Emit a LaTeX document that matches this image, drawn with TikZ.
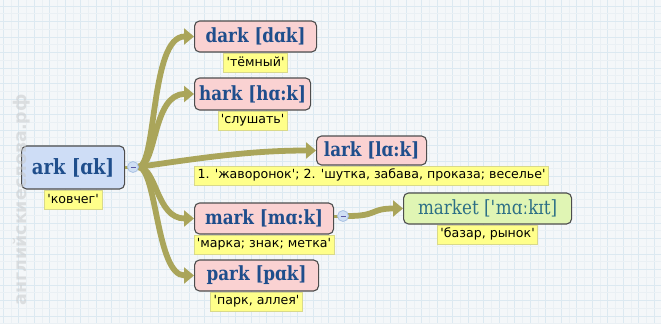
\documentclass[tikz,border=0pt]{standalone}
\usepackage{fontspec}
\setmainfont{DejaVu Sans}
\newfontfamily\wordfont[FakeStretch=0.86]{DejaVu Serif}
\newfontfamily\labfont{DejaVu Sans}
\usetikzlibrary{arrows.meta}
\definecolor{bg}{HTML}{F4F7F9}
\definecolor{gridc}{HTML}{DCE9F1}
\definecolor{gridm}{HTML}{EAF0F4}
\definecolor{olive}{HTML}{AAA55A}
\definecolor{pinkf}{HTML}{FAD2D2}
\definecolor{bluef}{HTML}{CEDDF6}
\definecolor{greenf}{HTML}{E0F5B4}
\definecolor{yel}{HTML}{FFFF8A}
\definecolor{yelb}{HTML}{D9D98A}
\definecolor{wordc}{HTML}{1F4E8C}
\definecolor{mktc}{HTML}{2C6F86}
\definecolor{bord}{HTML}{4D4D4D}
\definecolor{circf}{HTML}{CFDFF4}
\definecolor{circb}{HTML}{A9C2E2}
\definecolor{wmark}{HTML}{C8CACC}
\tikzset{
  wordbox/.style={draw=bord, line width=1.1pt, rounded corners=5pt, inner xsep=4pt, inner ysep=0pt,
    minimum height=31pt, font=\wordfont\bfseries\fontsize{19.5}{19.5}\selectfont, text=wordc, anchor=west},
  labelbox/.style={fill=yel, draw=yelb, line width=0.5pt, inner xsep=3pt, inner ysep=0pt,
    minimum height=19pt, font=\labfont\fontsize{12.6}{12.6}\selectfont, text=black, anchor=north},
  conn/.style={draw=olive, line width=5.8pt, -{Triangle[length=10pt,width=16pt]}},
  thinconn/.style={draw=olive, line width=3pt},
  collapse/.style={circle, fill=circf, draw=circb, line width=0.8pt, minimum size=11pt, inner sep=0pt},
}
\begin{document}
\begin{tikzpicture}[x=1pt,y=-1pt]
\useasboundingbox (0,0) rectangle (661,324);
\fill[bg] (0,0) rectangle (661,324);
% grid
\foreach \i in {0,...,42} {
  \draw[gridm, line width=0.6pt] ({10.95+15.5*\i},0) -- ++(0,324);
  \draw[gridc, line width=0.8pt] ({3.2+15.5*\i},0) -- ++(0,324);
}
\foreach \j in {0,...,21} {
  \draw[gridm, line width=0.6pt] (0,{13.75+15.5*\j}) -- ++(661,0);
  \draw[gridc, line width=0.8pt] (0,{6+15.5*\j}) -- ++(661,0);
}

% word boxes
\node[wordbox, fill=bluef, minimum height=43pt, minimum width=103pt, font=\wordfont\bfseries\fontsize{21}{21}\selectfont] (ark) at (21,167.5) {ark [ɑk]};
\node[wordbox, fill=pinkf, minimum width=122pt] (dark) at (194,36.5) {dark [dɑk]};
\node[wordbox, fill=pinkf, minimum width=116pt, minimum height=32pt] (hark) at (194,94) {hark [hɑ:k]};
\node[wordbox, fill=pinkf, minimum width=110pt, minimum height=29pt] (lark) at (316,150.5) {lark [lɑ:k]};
\node[wordbox, fill=pinkf, minimum width=139pt] (mark) at (194,218.5) {mark [mɑ:k]};
\node[wordbox, fill=greenf, minimum width=168pt, font=\wordfont\fontsize{19.5}{19.5}\selectfont, text=mktc] (market) at (403,208.5) {market [\textquotesingle mɑːkɪt]};
\node[wordbox, fill=pinkf, minimum width=124pt] (park) at (194,275.5) {park [pɑk]};

% labels
\node[labelbox] (arkl) at (ark.south) {'ковчег'};
\node[labelbox] (darkl) at (dark.south) {'тёмный'};
\node[labelbox] (harkl) at (hark.south) {'слушать'};
\node[labelbox] (larkl) at (lark.south) {1. 'жаворонок'; 2. 'шутка, забава, проказа; веселье'};
\node[labelbox] (markl) at (mark.south) {'марка; знак; метка'};
\node[labelbox] (marketl) at (market.south) {'базар, рынок'};
\node[labelbox] (parkl) at (park.south) {'парк, аллея'};

% collapse circles
\coordinate (c1) at (133,167);
\coordinate (c2) at (343,216);
\draw[thinconn] (ark.east |- c1) -- (c1);
\draw[thinconn] (mark.east |- c2) -- (c2);

% connectors
\coordinate (o1) at (138,167);
\coordinate (o2) at (348,216);
\draw[conn] (o1) .. controls (157,167) and (150,36.5) .. (dark.west);
\draw[conn] (o1) .. controls (157,167) and (152,94) .. (hark.west);
\draw[conn] (o1) .. controls (200,158) and (250,150.5) .. (lark.west);
\draw[conn] (o1) .. controls (157,167) and (156,218.5) .. (mark.west);
\draw[conn] (o1) .. controls (157,167) and (156,275.5) .. (park.west);
\draw[conn] (o2) .. controls (378,216) and (370,208.5) .. (market.west);

\node[collapse] (k1) at (c1) {};
\draw[gray!70!blue, line width=0.7pt] ([xshift=-2.5pt]k1.center) -- ([xshift=2.5pt]k1.center);
\node[collapse] (k2) at (c2) {};
\draw[gray!70!blue, line width=0.7pt] ([xshift=-2.5pt]k2.center) -- ([xshift=2.5pt]k2.center);

% watermark (drawn over, translucent)
\node[rotate=90, text=wmark, opacity=0.55, font=\labfont\bfseries\fontsize{17.5}{17.5}\selectfont] (wm) at (22,200) {английскиеслова.рф};
\end{tikzpicture}
\end{document}
